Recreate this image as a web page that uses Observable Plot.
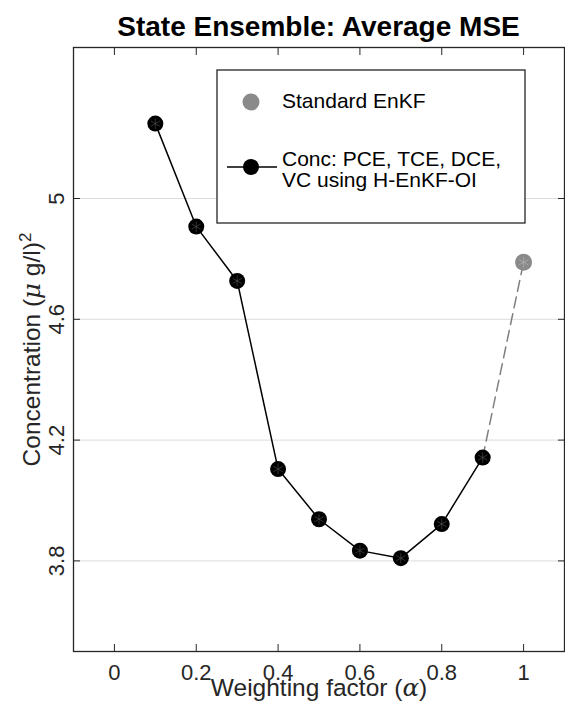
<!DOCTYPE html>
<html>
<head>
<meta charset="utf-8">
<script src="https://cdn.jsdelivr.net/npm/d3@7"></script>
<script src="https://cdn.jsdelivr.net/npm/@observablehq/plot@0.6"></script>
<style>
  body { margin: 0; background: #fff; font-family: "Liberation Sans", Arial, sans-serif; }
  #fig { position: relative; width: 565px; height: 707px; }
  #title { height: 40px; box-sizing: border-box; padding-top: 14px; line-height: 26px;
           font-size: 28px; font-weight: bold; text-align: center; color: #000;
           margin-left: 73px; width: 491px; white-space: nowrap; }
  #legend { position: absolute; left: 216px; top: 69px; }
</style>
</head>
<body>
<div id="fig">
  <div id="title">State Ensemble: Average MSE</div>
  <div id="chart"></div>
  <svg id="legend" width="311" height="156"></svg>
</div>
<script>
// Weighting factor for the hybrid filter and the resulting average MSE
const alpha = [0.1, 0.2, 0.3, 0.4, 0.5, 0.6, 0.7, 0.8, 0.9];
const hybridMSE = [5.248, 4.907, 4.727, 4.104, 3.938, 3.834, 3.809, 3.922, 4.142];

// Standard EnKF result, plotted at alpha = 1
const standardAlpha = [1.0];
const standardMSE = [4.789];

const xTicks = [0, 0.2, 0.4, 0.6, 0.8, 1];
const yTicks = [3.8, 4.2, 4.6, 5];

const legendStandard = "Standard EnKF";
const legendHybrid = ["Conc: PCE, TCE, DCE,", "VC using H-EnKF-OI"];

const hybrid = alpha.map((a, i) => ({alpha: a, mse: hybridMSE[i]}));
const standard = standardAlpha.map((a, i) => ({alpha: a, mse: standardMSE[i]}));
const link = [hybrid[hybrid.length - 1], standard[0]];

const ink = "#262626";

const chart = Plot.plot({
  width: 565,
  height: 667,
  marginTop: 7,
  marginBottom: 56,
  marginLeft: 73,
  marginRight: 1,
  style: {fontFamily: '"Liberation Sans", Arial, sans-serif', fontSize: "22px", color: ink, background: "#fff", overflow: "visible"},
  x: {domain: [-0.1, 1.1]},
  y: {domain: [3.5, 5.5]},
  marks: [
    Plot.gridY(yTicks, {stroke: "#dcdcdc", strokeOpacity: 1, strokeWidth: 1}),
    Plot.axisX(xTicks, {anchor: "bottom", tickSize: -7, tickPadding: 20, tickFormat: d => String(d),
      stroke: ink, fill: ink, fontSize: 22,
      label: "Weighting factor (α)", labelAnchor: "center", labelOffset: 44, labelArrow: "none"}),
    Plot.axisX(xTicks, {anchor: "top", tickSize: -7, tickFormat: () => "", stroke: ink, label: null}),
    Plot.axisY(yTicks, {anchor: "left", tickSize: -7, tickPadding: 17, tickRotate: -90, tickFormat: d => String(d),
      stroke: ink, fill: ink, fontSize: 22,
      label: "Concentration (μ g/l)2", labelAnchor: "center", labelOffset: 51, labelArrow: "none"}),
    Plot.axisY(yTicks, {anchor: "right", tickSize: -7, tickFormat: () => "", stroke: ink, label: null}),
    Plot.frame({stroke: ink, strokeWidth: 1.3}),
    Plot.line(link, {x: "alpha", y: "mse", stroke: "#7f7f7f", strokeWidth: 1.5, strokeDasharray: "11,6"}),
    Plot.line(hybrid, {x: "alpha", y: "mse", stroke: "#000", strokeWidth: 1.5}),
    Plot.dot(hybrid, {x: "alpha", y: "mse", r: 8, fill: "#000"}),
    Plot.dot(hybrid, {x: "alpha", y: "mse", r: 5, symbol: "asterisk", stroke: "#555", strokeWidth: 0.6}),
    Plot.dot(standard, {x: "alpha", y: "mse", r: 8.5, fill: "#8a8a8a"}),
    Plot.dot(standard, {x: "alpha", y: "mse", r: 5, symbol: "asterisk", stroke: "#b8b8b8", strokeWidth: 0.6})
  ]
});
document.getElementById("chart").appendChild(chart);

// Axis labels with italic Greek symbols and a superscript
const svg = d3.select(chart);
const xl = svg.select('[aria-label="x-axis label"] text');
xl.style("font-size", "24.5px").text("");
xl.append("tspan").text("Weighting factor (");
xl.append("tspan").attr("font-style", "italic").attr("font-family", "DejaVu Serif, serif").text("α");
xl.append("tspan").text(")");

const yl = svg.select('[aria-label="y-axis label"] text');
yl.style("font-size", "24.5px").text("");
yl.append("tspan").text("Concentration (");
yl.append("tspan").attr("font-style", "italic").attr("font-family", "DejaVu Serif, serif").text("μ");
yl.append("tspan").text(" g/l)");
yl.append("tspan").attr("dy", "-0.55em").attr("font-size", "17px").text("2");

// Legend box
const lg = d3.select("#legend");
lg.append("rect").attr("x", 1).attr("y", 1).attr("width", 308).attr("height", 153)
  .attr("fill", "#fff").attr("stroke", ink).attr("stroke-width", 1.3);
lg.append("circle").attr("cx", 35).attr("cy", 33).attr("r", 8.5).attr("fill", "#8a8a8a");
lg.append("text").attr("x", 66).attr("y", 39).attr("font-size", 21).attr("fill", "#000").text(legendStandard);
lg.append("line").attr("x1", 11).attr("x2", 61).attr("y1", 98).attr("y2", 98).attr("stroke", "#000").attr("stroke-width", 1.5);
lg.append("circle").attr("cx", 35).attr("cy", 98).attr("r", 8).attr("fill", "#000");
legendHybrid.forEach((t, i) => {
  lg.append("text").attr("x", 66).attr("y", 97 + i * 20.7).attr("font-size", 21).attr("fill", "#000").text(t);
});
</script>
</body>
</html>
